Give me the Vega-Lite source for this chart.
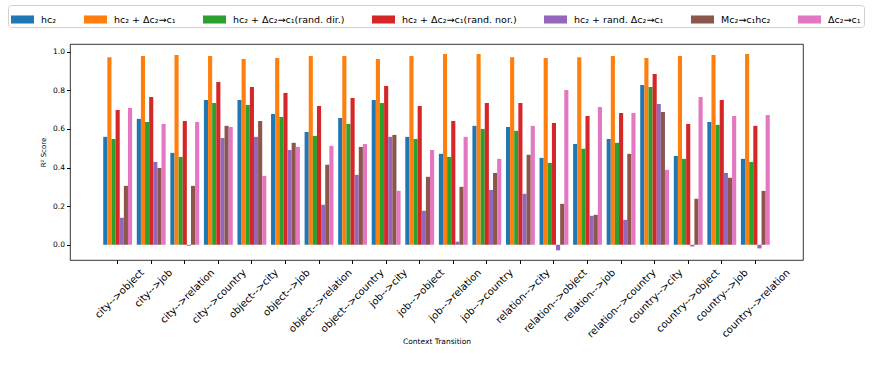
{
  "$schema": "https://vega.github.io/schema/vega-lite/v6.json",
  "width": 733,
  "height": 216,
  "autosize": {"type": "none"},
  "padding": {"left": 70, "top": 44, "right": 70, "bottom": 117},
  "background": "white",
  "config": {"font": "DejaVu Sans", "view": {"stroke": "black", "strokeWidth": 0.8}},
  "data": {"values": [
    {"t":"city-->object","s":"hc₂","v":0.559},{"t":"city-->object","s":"hc₂ + Δc₂→c₁","v":0.972},{"t":"city-->object","s":"hc₂ + Δc₂→c₁(rand. dir.)","v":0.548},{"t":"city-->object","s":"hc₂ + Δc₂→c₁(rand. nor.)","v":0.698},{"t":"city-->object","s":"hc₂ + rand. Δc₂→c₁","v":0.140},{"t":"city-->object","s":"Mc₂→c₁hc₂","v":0.305},{"t":"city-->object","s":"Δc₂→c₁","v":0.709},
    {"t":"city-->job","s":"hc₂","v":0.652},{"t":"city-->job","s":"hc₂ + Δc₂→c₁","v":0.978},{"t":"city-->job","s":"hc₂ + Δc₂→c₁(rand. dir.)","v":0.636},{"t":"city-->job","s":"hc₂ + Δc₂→c₁(rand. nor.)","v":0.766},{"t":"city-->job","s":"hc₂ + rand. Δc₂→c₁","v":0.429},{"t":"city-->job","s":"Mc₂→c₁hc₂","v":0.398},{"t":"city-->job","s":"Δc₂→c₁","v":0.626},
    {"t":"city-->relation","s":"hc₂","v":0.476},{"t":"city-->relation","s":"hc₂ + Δc₂→c₁","v":0.983},{"t":"city-->relation","s":"hc₂ + Δc₂→c₁(rand. dir.)","v":0.455},{"t":"city-->relation","s":"hc₂ + Δc₂→c₁(rand. nor.)","v":0.641},{"t":"city-->relation","s":"hc₂ + rand. Δc₂→c₁","v":-0.005},{"t":"city-->relation","s":"Mc₂→c₁hc₂","v":0.305},{"t":"city-->relation","s":"Δc₂→c₁","v":0.636},
    {"t":"city-->country","s":"hc₂","v":0.750},{"t":"city-->country","s":"hc₂ + Δc₂→c₁","v":0.978},{"t":"city-->country","s":"hc₂ + Δc₂→c₁(rand. dir.)","v":0.734},{"t":"city-->country","s":"hc₂ + Δc₂→c₁(rand. nor.)","v":0.843},{"t":"city-->country","s":"hc₂ + rand. Δc₂→c₁","v":0.553},{"t":"city-->country","s":"Mc₂→c₁hc₂","v":0.616},{"t":"city-->country","s":"Δc₂→c₁","v":0.610},
    {"t":"object-->city","s":"hc₂","v":0.750},{"t":"object-->city","s":"hc₂ + Δc₂→c₁","v":0.962},{"t":"object-->city","s":"hc₂ + Δc₂→c₁(rand. dir.)","v":0.724},{"t":"object-->city","s":"hc₂ + Δc₂→c₁(rand. nor.)","v":0.817},{"t":"object-->city","s":"hc₂ + rand. Δc₂→c₁","v":0.559},{"t":"object-->city","s":"Mc₂→c₁hc₂","v":0.641},{"t":"object-->city","s":"Δc₂→c₁","v":0.357},
    {"t":"object-->job","s":"hc₂","v":0.678},{"t":"object-->job","s":"hc₂ + Δc₂→c₁","v":0.967},{"t":"object-->job","s":"hc₂ + Δc₂→c₁(rand. dir.)","v":0.662},{"t":"object-->job","s":"hc₂ + Δc₂→c₁(rand. nor.)","v":0.786},{"t":"object-->job","s":"hc₂ + rand. Δc₂→c₁","v":0.491},{"t":"object-->job","s":"Mc₂→c₁hc₂","v":0.528},{"t":"object-->job","s":"Δc₂→c₁","v":0.507},
    {"t":"object-->relation","s":"hc₂","v":0.584},{"t":"object-->relation","s":"hc₂ + Δc₂→c₁","v":0.978},{"t":"object-->relation","s":"hc₂ + Δc₂→c₁(rand. dir.)","v":0.564},{"t":"object-->relation","s":"hc₂ + Δc₂→c₁(rand. nor.)","v":0.719},{"t":"object-->relation","s":"hc₂ + rand. Δc₂→c₁","v":0.207},{"t":"object-->relation","s":"Mc₂→c₁hc₂","v":0.414},{"t":"object-->relation","s":"Δc₂→c₁","v":0.512},
    {"t":"object-->country","s":"hc₂","v":0.657},{"t":"object-->country","s":"hc₂ + Δc₂→c₁","v":0.978},{"t":"object-->country","s":"hc₂ + Δc₂→c₁(rand. dir.)","v":0.626},{"t":"object-->country","s":"hc₂ + Δc₂→c₁(rand. nor.)","v":0.760},{"t":"object-->country","s":"hc₂ + rand. Δc₂→c₁","v":0.362},{"t":"object-->country","s":"Mc₂→c₁hc₂","v":0.507},{"t":"object-->country","s":"Δc₂→c₁","v":0.522},
    {"t":"job-->city","s":"hc₂","v":0.750},{"t":"job-->city","s":"hc₂ + Δc₂→c₁","v":0.962},{"t":"job-->city","s":"hc₂ + Δc₂→c₁(rand. dir.)","v":0.734},{"t":"job-->city","s":"hc₂ + Δc₂→c₁(rand. nor.)","v":0.822},{"t":"job-->city","s":"hc₂ + rand. Δc₂→c₁","v":0.559},{"t":"job-->city","s":"Mc₂→c₁hc₂","v":0.569},{"t":"job-->city","s":"Δc₂→c₁","v":0.279},
    {"t":"job-->object","s":"hc₂","v":0.559},{"t":"job-->object","s":"hc₂ + Δc₂→c₁","v":0.978},{"t":"job-->object","s":"hc₂ + Δc₂→c₁(rand. dir.)","v":0.548},{"t":"job-->object","s":"hc₂ + Δc₂→c₁(rand. nor.)","v":0.719},{"t":"job-->object","s":"hc₂ + rand. Δc₂→c₁","v":0.176},{"t":"job-->object","s":"Mc₂→c₁hc₂","v":0.352},{"t":"job-->object","s":"Δc₂→c₁","v":0.491},
    {"t":"job-->relation","s":"hc₂","v":0.471},{"t":"job-->relation","s":"hc₂ + Δc₂→c₁","v":0.988},{"t":"job-->relation","s":"hc₂ + Δc₂→c₁(rand. dir.)","v":0.455},{"t":"job-->relation","s":"hc₂ + Δc₂→c₁(rand. nor.)","v":0.641},{"t":"job-->relation","s":"hc₂ + rand. Δc₂→c₁","v":0.016},{"t":"job-->relation","s":"Mc₂→c₁hc₂","v":0.300},{"t":"job-->relation","s":"Δc₂→c₁","v":0.559},
    {"t":"job-->country","s":"hc₂","v":0.616},{"t":"job-->country","s":"hc₂ + Δc₂→c₁","v":0.988},{"t":"job-->country","s":"hc₂ + Δc₂→c₁(rand. dir.)","v":0.600},{"t":"job-->country","s":"hc₂ + Δc₂→c₁(rand. nor.)","v":0.734},{"t":"job-->country","s":"hc₂ + rand. Δc₂→c₁","v":0.284},{"t":"job-->country","s":"Mc₂→c₁hc₂","v":0.372},{"t":"job-->country","s":"Δc₂→c₁","v":0.445},
    {"t":"relation-->city","s":"hc₂","v":0.610},{"t":"relation-->city","s":"hc₂ + Δc₂→c₁","v":0.972},{"t":"relation-->city","s":"hc₂ + Δc₂→c₁(rand. dir.)","v":0.590},{"t":"relation-->city","s":"hc₂ + Δc₂→c₁(rand. nor.)","v":0.734},{"t":"relation-->city","s":"hc₂ + rand. Δc₂→c₁","v":0.264},{"t":"relation-->city","s":"Mc₂→c₁hc₂","v":0.466},{"t":"relation-->city","s":"Δc₂→c₁","v":0.616},
    {"t":"relation-->object","s":"hc₂","v":0.450},{"t":"relation-->object","s":"hc₂ + Δc₂→c₁","v":0.967},{"t":"relation-->object","s":"hc₂ + Δc₂→c₁(rand. dir.)","v":0.424},{"t":"relation-->object","s":"hc₂ + Δc₂→c₁(rand. nor.)","v":0.631},{"t":"relation-->object","s":"hc₂ + rand. Δc₂→c₁","v":-0.029},{"t":"relation-->object","s":"Mc₂→c₁hc₂","v":0.212},{"t":"relation-->object","s":"Δc₂→c₁","v":0.802},
    {"t":"relation-->job","s":"hc₂","v":0.522},{"t":"relation-->job","s":"hc₂ + Δc₂→c₁","v":0.972},{"t":"relation-->job","s":"hc₂ + Δc₂→c₁(rand. dir.)","v":0.497},{"t":"relation-->job","s":"hc₂ + Δc₂→c₁(rand. nor.)","v":0.667},{"t":"relation-->job","s":"hc₂ + rand. Δc₂→c₁","v":0.150},{"t":"relation-->job","s":"Mc₂→c₁hc₂","v":0.155},{"t":"relation-->job","s":"Δc₂→c₁","v":0.714},
    {"t":"relation-->country","s":"hc₂","v":0.548},{"t":"relation-->country","s":"hc₂ + Δc₂→c₁","v":0.978},{"t":"relation-->country","s":"hc₂ + Δc₂→c₁(rand. dir.)","v":0.528},{"t":"relation-->country","s":"hc₂ + Δc₂→c₁(rand. nor.)","v":0.683},{"t":"relation-->country","s":"hc₂ + rand. Δc₂→c₁","v":0.129},{"t":"relation-->country","s":"Mc₂→c₁hc₂","v":0.471},{"t":"relation-->country","s":"Δc₂→c₁","v":0.683},
    {"t":"country-->city","s":"hc₂","v":0.828},{"t":"country-->city","s":"hc₂ + Δc₂→c₁","v":0.967},{"t":"country-->city","s":"hc₂ + Δc₂→c₁(rand. dir.)","v":0.817},{"t":"country-->city","s":"hc₂ + Δc₂→c₁(rand. nor.)","v":0.884},{"t":"country-->city","s":"hc₂ + rand. Δc₂→c₁","v":0.729},{"t":"country-->city","s":"Mc₂→c₁hc₂","v":0.688},{"t":"country-->city","s":"Δc₂→c₁","v":0.388},
    {"t":"country-->object","s":"hc₂","v":0.460},{"t":"country-->object","s":"hc₂ + Δc₂→c₁","v":0.978},{"t":"country-->object","s":"hc₂ + Δc₂→c₁(rand. dir.)","v":0.445},{"t":"country-->object","s":"hc₂ + Δc₂→c₁(rand. nor.)","v":0.626},{"t":"country-->object","s":"hc₂ + rand. Δc₂→c₁","v":-0.009},{"t":"country-->object","s":"Mc₂→c₁hc₂","v":0.238},{"t":"country-->object","s":"Δc₂→c₁","v":0.766},
    {"t":"country-->job","s":"hc₂","v":0.636},{"t":"country-->job","s":"hc₂ + Δc₂→c₁","v":0.983},{"t":"country-->job","s":"hc₂ + Δc₂→c₁(rand. dir.)","v":0.621},{"t":"country-->job","s":"hc₂ + Δc₂→c₁(rand. nor.)","v":0.750},{"t":"country-->job","s":"hc₂ + rand. Δc₂→c₁","v":0.372},{"t":"country-->job","s":"Mc₂→c₁hc₂","v":0.347},{"t":"country-->job","s":"Δc₂→c₁","v":0.667},
    {"t":"country-->relation","s":"hc₂","v":0.445},{"t":"country-->relation","s":"hc₂ + Δc₂→c₁","v":0.988},{"t":"country-->relation","s":"hc₂ + Δc₂→c₁(rand. dir.)","v":0.429},{"t":"country-->relation","s":"hc₂ + Δc₂→c₁(rand. nor.)","v":0.616},{"t":"country-->relation","s":"hc₂ + rand. Δc₂→c₁","v":-0.019},{"t":"country-->relation","s":"Mc₂→c₁hc₂","v":0.279},{"t":"country-->relation","s":"Δc₂→c₁","v":0.672}
  ]},
  "mark": {"type": "bar"},
  "encoding": {
    "x": {
      "field": "t", "type": "nominal", "sort": null,
      "scale": {"paddingInner": 0.14, "paddingOuter": 0.99},
      "axis": {
        "title": "Context Transition", "titleFontSize": 7.5, "titleFontWeight": "normal", "titleColor": "black", "titlePadding": -2,
        "labelAngle": -45, "labelAlign": "right", "labelBaseline": "top", "labelFontSize": 10, "labelColor": "black",
        "labelOffset": {"expr": "length(datum.label)*1.7 - 1"}, "labelPadding": 3.5,
        "tickColor": "black", "tickSize": 3.5, "domain": false
      }
    },
    "xOffset": {
      "field": "s", "type": "nominal",
      "sort": ["hc₂", "hc₂ + Δc₂→c₁", "hc₂ + Δc₂→c₁(rand. dir.)", "hc₂ + Δc₂→c₁(rand. nor.)", "hc₂ + rand. Δc₂→c₁", "Mc₂→c₁hc₂", "Δc₂→c₁"],
      "scale": {"paddingInner": 0, "paddingOuter": 0}
    },
    "y": {
      "field": "v", "type": "quantitative", "stack": null,
      "scale": {"domain": [-0.079, 1.04], "nice": false},
      "axis": {
        "title": "R² Score", "titleFontSize": 7, "titleFontWeight": "normal", "titleColor": "black", "titlePadding": 6,
        "values": [0, 0.2, 0.4, 0.6, 0.8, 1.0], "format": ".1f", "grid": false, "domain": false,
        "labelFontSize": 7.5, "labelColor": "black", "tickColor": "black", "tickSize": 3.5, "labelPadding": 2
      }
    },
    "color": {
      "field": "s", "type": "nominal",
      "scale": {
        "domain": ["hc₂", "hc₂ + Δc₂→c₁", "hc₂ + Δc₂→c₁(rand. dir.)", "hc₂ + Δc₂→c₁(rand. nor.)", "hc₂ + rand. Δc₂→c₁", "Mc₂→c₁hc₂", "Δc₂→c₁"],
        "range": ["#1f77b4", "#ff7f0e", "#2ca02c", "#d62728", "#9467bd", "#8c564b", "#e377c2"]
      },
      "legend": {
        "title": null, "orient": "none", "legendX": -62, "legendY": -39,
        "direction": "horizontal", "columns": 7,
        "symbolType": "M-1,-0.35H1V0.35H-1Z", "symbolSize": 529, "symbolStrokeWidth": 0,
        "labelFontSize": 9.5, "labelColor": "black", "labelOffset": 7,
        "strokeColor": "#d0d0d0", "fillColor": "white", "cornerRadius": 3, "padding": 3,
        "columnPadding": 27
      }
    }
  }
}
